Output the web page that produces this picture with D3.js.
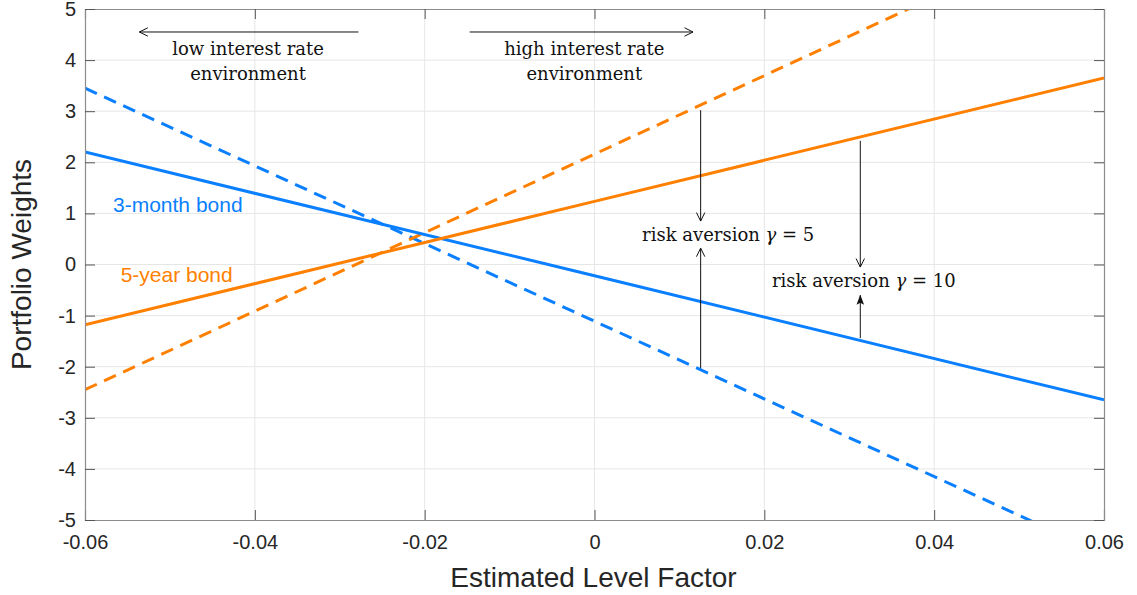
<!DOCTYPE html>
<html>
<head>
<meta charset="utf-8">
<script src="https://cdn.jsdelivr.net/npm/d3@7"></script>
<style>
  body { margin: 0; background: #fff; }
  .tick-label { font-family: "Liberation Sans", Arial, sans-serif; font-size: 20px; fill: #262626; }
  .axis-title { font-family: "Liberation Sans", Arial, sans-serif; font-size: 28px; fill: #262626; }
  .note { font-family: "DejaVu Serif", "Liberation Serif", serif; font-size: 18px; fill: #111; }
  .series-label { font-family: "Liberation Sans", Arial, sans-serif; font-size: 21px; }
</style>
</head>
<body>
<div id="chart"></div>
<script>
const levelFactor = [-0.06, 0, 0.06];

// portfolio weights, risk aversion gamma = 10 (solid) and gamma = 5 (dashed)
const shortBond10 = [2.2, -0.22, -2.65];
const longBond10 = [-1.18, 1.235, 3.65];
const shortBond5 = [3.45, -1.11, -5.67];
const longBond5 = [-2.45, 2.16, 6.77];

const xTicks = [-0.06, -0.04, -0.02, 0, 0.02, 0.04, 0.06];
const xTickLabels = ["-0.06", "-0.04", "-0.02", "0", "0.02", "0.04", "0.06"];
const yTicks = [-5, -4, -3, -2, -1, 0, 1, 2, 3, 4, 5];

const BLUE = "#0a7fff";
const ORANGE = "#ff8000";

const series = [
    { name: "shortBond5", values: shortBond5, color: BLUE, dashed: true },
    { name: "longBond5", values: longBond5, color: ORANGE, dashed: true },
    { name: "shortBond10", values: shortBond10, color: BLUE, dashed: false },
    { name: "longBond10", values: longBond10, color: ORANGE, dashed: false },
];

// annotation arrows in data units: [x1, y1, x2, y2, filled head]
const arrows = [
    [-0.0278, 4.55, -0.0536, 4.55, false],
    [-0.0147, 4.55, 0.0116, 4.55, false],
    [0.0125, 3.02, 0.0125, 0.85, false],
    [0.0125, -2.03, 0.0125, 0.32, false],
    [0.0313, 2.42, 0.0313, -0.05, false],
    [0.0313, -1.44, 0.0313, -0.60, true],
];

const width = 1137, height = 595;
const margin = { top: 9, right: 33, bottom: 75, left: 85 };

const svg = d3.select("#chart").append("svg")
    .attr("width", width)
    .attr("height", height);

const innerW = width - margin.left - margin.right;
const innerH = height - margin.top - margin.bottom;

const g = svg.append("g")
    .attr("transform", "translate(" + margin.left + "," + margin.top + ")");

const x = d3.scaleLinear().domain([-0.06, 0.06]).range([0, innerW]);
const y = d3.scaleLinear().domain([-5, 5]).range([innerH, 0]);

// grid
g.append("g").selectAll("line.vgrid")
    .data(xTicks.slice(1, -1))
    .join("line")
    .attr("x1", d => x(d)).attr("x2", d => x(d))
    .attr("y1", 0).attr("y2", innerH)
    .attr("stroke", "#e6e6e6").attr("stroke-width", 1);

g.append("g").selectAll("line.hgrid")
    .data(yTicks.slice(1, -1))
    .join("line")
    .attr("x1", 0).attr("x2", innerW)
    .attr("y1", d => y(d)).attr("y2", d => y(d))
    .attr("stroke", "#e6e6e6").attr("stroke-width", 1);

// clip for the lines
svg.append("defs").append("clipPath").attr("id", "plot-clip")
    .append("rect").attr("width", innerW).attr("height", innerH);

const line = d3.line()
    .x((d, i) => x(levelFactor[i]))
    .y(d => y(d));

g.append("g").attr("clip-path", "url(#plot-clip)")
    .selectAll("path")
    .data(series)
    .join("path")
    .attr("d", d => line(d.values))
    .attr("fill", "none")
    .attr("stroke", d => d.color)
    .attr("stroke-width", 3)
    .attr("stroke-dasharray", d => d.dashed ? "13,8" : null);

// axes: ticks pointing inward on all four sides
const tickSize = 10;
const axisColor = "#8c8c8c";

const axisBottom = d3.axisBottom(x).tickValues(xTicks).tickSize(-tickSize)
    .tickFormat((d, i) => xTickLabels[i]).tickPadding(10);
const axisTop = d3.axisTop(x).tickValues(xTicks).tickSize(-tickSize).tickFormat("");
const axisLeft = d3.axisLeft(y).tickValues(yTicks).tickSize(-tickSize)
    .tickFormat(d => String(d)).tickPadding(9);
const axisRight = d3.axisRight(y).tickValues(yTicks).tickSize(-tickSize).tickFormat("");

const styleAxis = sel => {
    sel.select(".domain").attr("stroke", axisColor).attr("stroke-width", 1.2);
    sel.selectAll(".tick line").attr("stroke", "#555");
    sel.selectAll(".tick text").attr("class", "tick-label").attr("fill", null);
};

g.append("g").attr("transform", "translate(0," + innerH + ")").call(axisBottom).call(styleAxis)
    .selectAll(".tick text").attr("dy", "0.95em");
g.append("g").call(axisTop).call(styleAxis);
g.append("g").call(axisLeft).call(styleAxis)
    .selectAll(".tick text").attr("dy", "0.32em");
g.append("g").attr("transform", "translate(" + innerW + ",0)").call(axisRight).call(styleAxis);

// axis titles
svg.append("text").attr("class", "axis-title")
    .attr("x", margin.left + innerW / 2 - 1).attr("y", 587)
    .attr("text-anchor", "middle")
    .text("Estimated Level Factor");

svg.append("text").attr("class", "axis-title")
    .attr("transform", "translate(31," + (margin.top + innerH / 2) + ") rotate(-90)")
    .attr("text-anchor", "middle")
    .text("Portfolio Weights");

// arrow heads
const defs = svg.select("defs");
defs.append("marker").attr("id", "head-open")
    .attr("viewBox", "0 -5 10 10").attr("refX", 9.5).attr("refY", 0)
    .attr("markerWidth", 10).attr("markerHeight", 10).attr("markerUnits", "userSpaceOnUse")
    .attr("orient", "auto")
    .append("path").attr("d", "M1,-4.2L9.5,0L1,4.2")
    .attr("fill", "none").attr("stroke", "#111").attr("stroke-width", 1);
defs.append("marker").attr("id", "head-filled")
    .attr("viewBox", "0 -5 10 10").attr("refX", 9.5).attr("refY", 0)
    .attr("markerWidth", 10).attr("markerHeight", 10).attr("markerUnits", "userSpaceOnUse")
    .attr("orient", "auto")
    .append("path").attr("d", "M0,-3.8L10,0L0,3.8L2,0Z")
    .attr("fill", "#111");

g.append("g").selectAll("line")
    .data(arrows)
    .join("line")
    .attr("x1", d => x(d[0])).attr("y1", d => y(d[1]))
    .attr("x2", d => x(d[2])).attr("y2", d => y(d[3]))
    .attr("stroke", "#111").attr("stroke-width", 1)
    .attr("marker-end", d => d[4] ? "url(#head-filled)" : "url(#head-open)");

// text annotations
const notes = g.append("g");
const envNote = (cx, first) => {
    const t = notes.append("text").attr("class", "note").attr("text-anchor", "middle");
    t.append("tspan").attr("x", x(cx)).attr("y", y(4.10)).text(first);
    t.append("tspan").attr("x", x(cx)).attr("y", y(3.61)).text("environment");
};
envNote(-0.0408, "low interest rate");
envNote(-0.0012, "high interest rate");

const riskNote = (x0, y0, gamma) => {
    const t = notes.append("text").attr("class", "note")
        .attr("x", x(x0)).attr("y", y(y0));
    t.append("tspan").text("risk aversion ");
    t.append("tspan").attr("font-style", "italic").text("γ");
    t.append("tspan").text(" = " + gamma);
};
riskNote(0.0056, 0.46, 5);
riskNote(0.0209, -0.44, 10);

// series labels
notes.append("text").attr("class", "series-label").attr("fill", BLUE)
    .attr("x", x(-0.0567)).attr("y", y(1.03)).text("3-month bond");
notes.append("text").attr("class", "series-label").attr("fill", ORANGE)
    .attr("x", x(-0.0558)).attr("y", y(-0.34)).text("5-year bond");
</script>
</body>
</html>
